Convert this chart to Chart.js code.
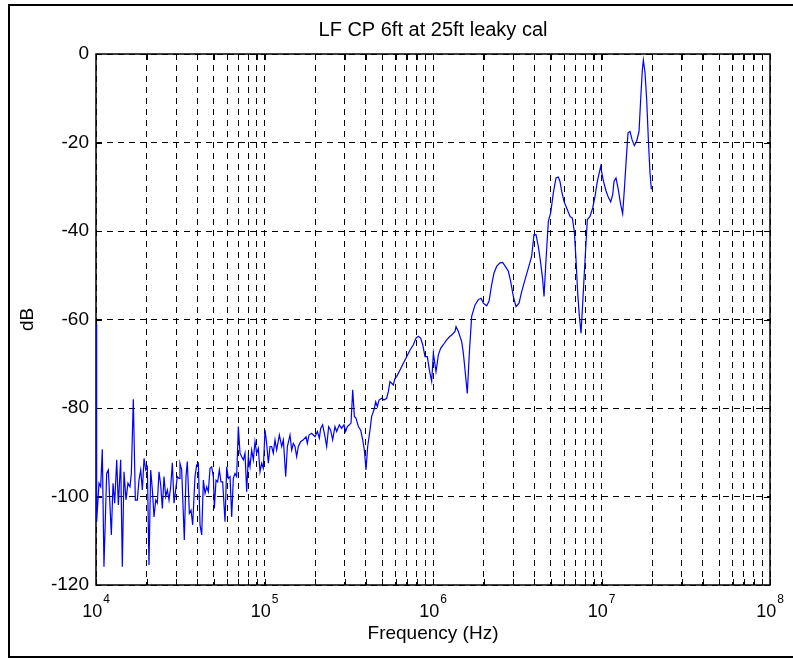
<!DOCTYPE html>
<html>
<head>
<meta charset="utf-8">
<title>LF CP 6ft at 25ft leaky cal</title>
<script src="https://cdn.jsdelivr.net/npm/chart.js@4.4.1/dist/chart.umd.min.js"></script>
<style>
  html, body { margin: 0; padding: 0; background: #fff; }
  #chart { display: block; }
</style>
</head>
<body>
<canvas id="chart" width="793" height="658"></canvas>
<script>
// values (Hz, dB)
const freqHz = [
  10000, 10090, 10420, 10660, 10900, 11150, 11570, 11840, 12330, 12620,
  12910, 13270, 13570, 14010, 14330, 14660, 15070, 15480, 15910, 16210,
  16650, 17120, 17590, 17990, 18420, 18840, 19280, 19720, 20170, 20630,
  21110, 21600, 22090, 22610, 23120, 23660, 24210, 24760, 25330, 25920,
  26510, 27120, 27750, 28380, 29040, 29710, 30390, 31090, 31510, 32240,
  33430, 34200, 34830, 35810, 36640, 37480, 38680, 39580, 40500, 41430,
  42390, 43370, 44370, 45390, 46410, 47500, 48580, 49710, 50390, 51550,
  52740, 53960, 55190, 56460, 58310, 59650, 61030, 62440, 63880, 65310,
  66820, 68360, 69940, 71560, 73210, 74900, 76620, 78390, 80170, 82030,
  83920, 85850, 87830, 89850, 91920, 94040, 96210, 98400, 100700, 103000,
  105400, 107800, 110300, 112800, 115400, 118100, 122500, 126500, 129400, 133600,
  136700, 141700, 145000, 148300, 151700, 155200, 158800, 163900, 170000, 176400,
  179600, 183700, 190500, 199400, 205900, 211600, 215400, 221400, 228600, 233800,
  240300, 247000, 253800, 262000, 268100, 278100, 287100, 296400, 303200, 310200,
  318800, 326200, 333800, 341400, 349200, 360600, 372300, 382600, 391400, 400400,
  409600, 422800, 432500, 446600, 456900, 467400, 478200, 496000, 511900, 531000,
  543100, 555600, 568500, 581600, 595000, 608800, 637200, 666700, 697900, 730400,
  764500, 792900, 818500, 845200, 868600, 896700, 925700, 951400, 982000, 1005000,
  1042000, 1076000, 1110000, 1152000, 1205000, 1262000, 1291000, 1351000, 1370000, 1414000,
  1480000, 1514000, 1549000, 1598000, 1643000, 1696000, 1776000, 1858000, 1927000, 1990000,
  2082000, 2149000, 2230000, 2301000, 2387000, 2497000, 2590000, 2687000, 2800000, 2890000,
  2997000, 3109000, 3239000, 3360000, 3516000, 3680000, 3851000, 3976000, 4086000, 4219000,
  4355000, 4476000, 4559000, 4685000, 4837000, 4993000, 5178000, 5370000, 5543000, 5671000,
  5801000, 5989000, 6212000, 6504000, 6714000, 6901000, 7060000, 7223000, 7390000, 7560000,
  7735000, 7986000, 8244000, 8548000, 8865000, 9150000, 9447000, 9888000, 10250000, 10630000,
  10980000, 11340000, 11650000, 11860000, 12190000, 12590000, 12990000, 13350000, 13660000, 14100000,
  14370000, 14760000, 15170000, 15660000, 16170000, 16700000, 17080000, 17480000, 17720000, 18130000,
  18540000, 18970000, 19400000, 19760000
];

const levelDb = [
  -61, -105.7, -97.0, -97.8, -89.3, -115.9, -94.8, -94.0, -108.7, -97.0,
  -101.5, -91.7, -101.9, -91.7, -115.9, -94.4, -100.8, -97.0, -97.8, -94.8,
  -78.0, -100.8, -100.8, -96.3, -94.0, -98.5, -91.4, -94.0, -93.3, -115.5,
  -94.0, -98.5, -104.6, -100.8, -101.5, -94.4, -97.4, -102.7, -95.5, -100.0,
  -98.5, -100.8, -97.8, -92.4, -101.5, -98.5, -95.5, -95.9, -92.5, -94.0,
  -109.8, -95.5, -92.1, -103.8, -103.1, -106.4, -95.5, -92.9, -92.5, -106.4,
  -108.7, -96.3, -99.3, -97.8, -98.9, -93.6, -93.3, -95.5, -102.7, -96.3,
  -96.7, -94.0, -96.7, -96.7, -105.7, -93.3, -95.9, -95.5, -104.6, -95.9,
  -94.8, -95.5, -84.2, -90.2, -91.0, -91.7, -90.2, -98.9, -91.0, -93.3,
  -89.5, -91.7, -87.6, -90.2, -89.1, -94.4, -92.5, -93.6, -85.0, -88.0,
  -92.5, -88.7, -88.7, -90.2, -87.2, -89.5, -86.1, -88.7, -87.2, -95.5,
  -88.7, -86.1, -89.5, -88.0, -88.7, -91.0, -88.7, -87.6, -87.2, -86.5,
  -88.0, -86.1, -85.7, -86.5, -85.3, -86.8, -84.6, -83.8, -86.5, -88.7,
  -84.2, -85.0, -87.2, -84.2, -85.3, -83.8, -84.6, -83.8, -85.3, -84.2,
  -83.8, -83.4, -75.9, -81.9, -82.3, -84.2, -85.0, -87.2, -89.5, -94.0,
  -88.7, -85.0, -81.9, -80.4, -78.6, -79.7, -78.2, -77.8, -78.2, -77.8,
  -76.3, -74.0, -74.4, -74.8, -73.3, -72.9, -71.4, -69.9, -68.4, -66.9,
  -65.7, -64.2, -63.8, -64.2, -65.7, -68.4, -68.4, -71.4, -74.0, -67.6,
  -71.8, -68.0, -66.5, -65.7, -64.6, -63.8, -63.5, -62.7, -61.6, -62.7,
  -65.0, -67.6, -71.4, -76.7, -67.6, -59.3, -56.7, -55.5, -55.2, -56.3,
  -56.9, -55.9, -52.1, -49.5, -48.0, -47.2, -47.1, -48.0, -49.1, -51.4,
  -54.8, -57.1, -56.3, -53.7, -51.0, -48.4, -45.7, -40.8, -40.8, -43.5,
  -47.2, -51.0, -54.8, -46.5, -37.8, -35.9, -31.4, -28.0, -27.8, -28.8,
  -31.0, -33.3, -34.8, -36.7, -37.1, -40.1, -46.5, -54.0, -59.3, -63.1,
  -56.3, -46.5, -37.4, -36.7, -34.8, -32.2, -28.8, -25.4, -28.6, -30.9,
  -32.4, -33.4, -31.8, -28.8, -28.0, -30.7, -34.0, -36.1, -30.7, -22.4,
  -17.8, -17.5, -19.3, -20.7, -19.7, -17.5, -10.3, -3.5, -1.4, -4.3,
  -10.3, -19.3, -26.9, -30.6
];

const yTicks = [-120, -100, -80, -60, -40, -20, 0];
const decades = [4, 5, 6, 7, 8];
const FONT = "'Liberation Sans', Arial, Helvetica, sans-serif";

// 1..9 x 10^n grid positions, like matlab's log grid
const logTicks = [];
decades.forEach(function (e) {
  const base = Math.pow(10, e);
  if (e === decades[decades.length - 1]) {
    logTicks.push(base);
    return;
  }
  for (let m = 1; m <= 9; m++) logTicks.push(m * base);
});

const axesFrame = {
  id: "axesFrame",
  beforeDatasetsDraw(chart) {
    const { ctx, chartArea: a, scales } = chart;
    ctx.save();
    ctx.strokeStyle = "#000";
    ctx.setLineDash([]);
    ctx.lineWidth = 1;
    ctx.beginPath();
    logTicks.forEach(function (v) {
      const px = Math.round(scales.x.getPixelForValue(v)) + 0.5;
      ctx.moveTo(px, a.bottom);
      ctx.lineTo(px, a.bottom - 6);
      ctx.moveTo(px, a.top);
      ctx.lineTo(px, a.top + 6);
    });
    yTicks.forEach(function (v) {
      const py = Math.round(scales.y.getPixelForValue(v)) + 0.5;
      ctx.moveTo(a.left, py);
      ctx.lineTo(a.left + 6, py);
      ctx.moveTo(a.right, py);
      ctx.lineTo(a.right - 6, py);
    });
    ctx.stroke();
    ctx.lineWidth = 1.5;
    ctx.strokeRect(a.left, a.top, a.right - a.left, a.bottom - a.top);
    ctx.restore();
  },
  afterDraw(chart) {
    const { ctx, scales } = chart;
    ctx.save();
    ctx.fillStyle = "#000";
    ctx.textAlign = "left";
    ctx.textBaseline = "alphabetic";
    decades.forEach(function (e) {
      const px = scales.x.getPixelForValue(Math.pow(10, e));
      ctx.font = "18px " + FONT;
      const wBase = ctx.measureText("10").width;
      ctx.font = "12px " + FONT;
      const wExp = ctx.measureText(String(e)).width;
      const left = px - (wBase + wExp + 1) / 2;
      ctx.font = "18px " + FONT;
      ctx.fillText("10", left, 617);
      ctx.font = "12px " + FONT;
      ctx.fillText(String(e), left + wBase + 1, 603);
    });
    // figure frame
    ctx.strokeStyle = "#000";
    ctx.lineWidth = 2;
    ctx.strokeRect(9, 5, 800, 652);
    ctx.restore();
  }
};

const ctx = document.getElementById("chart").getContext("2d");
new Chart(ctx, {
  type: "scatter",
  data: {
    datasets: [
      {
        data: freqHz.map(function (f, i) { return { x: f, y: levelDb[i] }; }),
        borderColor: "#0000ff",
        backgroundColor: "#0000ff",
        borderWidth: 1.2,
        pointRadius: 0,
        showLine: true,
        tension: 0,
        fill: false,
      },
    ],
  },
  options: {
    responsive: false,
    animation: false,
    devicePixelRatio: 1,
    layout: { padding: { top: 18, right: 23, bottom: 0, left: 0 } },
    scales: {
      x: {
        type: "logarithmic",
        min: 1e4,
        max: 1e8,
        afterBuildTicks: function (scale) {
          scale.ticks = logTicks.map(function (v) { return { value: v }; });
        },
        afterFit: function (scale) { scale.height = 73; },
        ticks: { display: false },
        grid: { color: "#000", lineWidth: 1, drawTicks: false },
        border: { display: false, dash: [6, 5] },
        title: {
          display: true,
          text: "Frequency (Hz)",
          color: "#000",
          font: { family: FONT, size: 19 },
          padding: { top: 0, bottom: 12.6 },
        },
      },
      y: {
        min: -120,
        max: 0,
        afterFit: function (scale) { scale.width = 96; },
        ticks: {
          stepSize: 20,
          color: "#000",
          padding: 7,
          font: { family: FONT, size: 19 },
        },
        grid: { color: "#000", lineWidth: 1, drawTicks: false },
        border: { display: false, dash: [6, 5] },
        title: {
          display: true,
          text: "dB",
          color: "#000",
          font: { family: FONT, size: 19 },
          padding: { top: 16, bottom: 0 },
        },
      },
    },
    plugins: {
      legend: { display: false },
      tooltip: { enabled: false },
      title: {
        display: true,
        text: "LF CP 6ft at 25ft leaky cal",
        color: "#000",
        fullSize: false,
        font: { family: FONT, size: 20, weight: "normal" },
        padding: { top: 0, bottom: 12 },
      },
    },
  },
  plugins: [axesFrame],
});
</script>
</body>
</html>
